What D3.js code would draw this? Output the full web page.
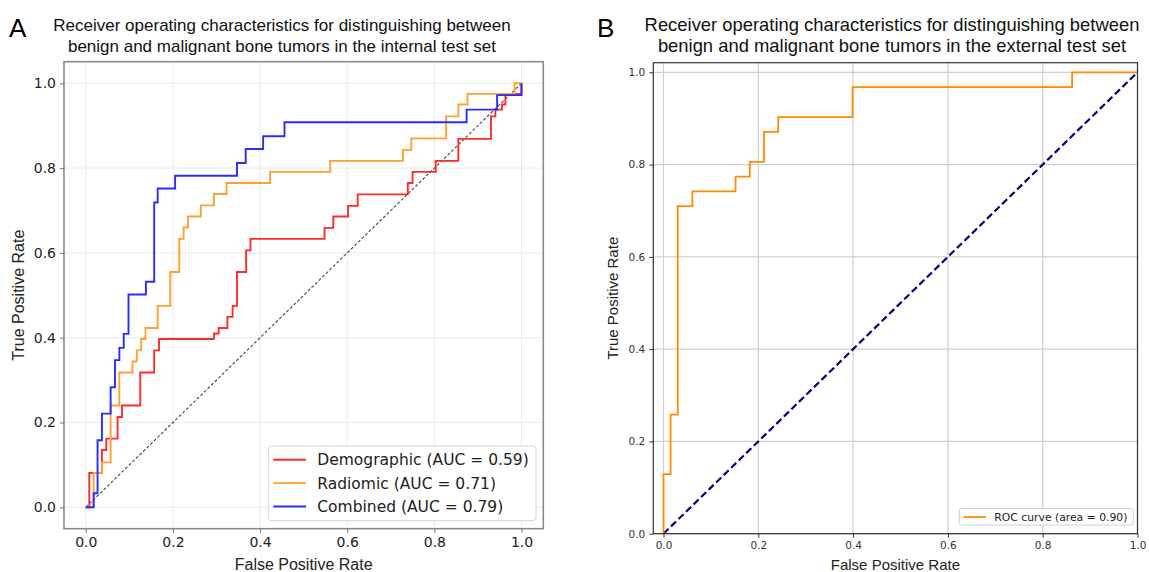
<!DOCTYPE html>
<html>
<head>
<meta charset="utf-8">
<script src="https://cdn.jsdelivr.net/npm/d3@7"></script>
<style>
  body { margin: 0; background: #fff; }
  svg { display: block; }
</style>
</head>
<body>
<script>
// ---- data ----
var tickValues = [0, 0.2, 0.4, 0.6, 0.8, 1.0];

// panel A, internal test set - (fpr, tpr) at the top of each vertical step
var demoFpr = [0, 0.008, 0.037, 0.047, 0.073, 0.083, 0.125, 0.157, 0.168, 0.294, 0.305, 0.325, 0.337, 0.347, 0.368, 0.378, 0.548, 0.568, 0.602, 0.624, 0.739, 0.750, 0.803, 0.855, 0.930, 0.940, 0.955, 0.963, 1.0];
var demoTpr = [0, 0.081, 0.135, 0.162, 0.213, 0.240, 0.318, 0.370, 0.397, 0.410, 0.423, 0.449, 0.475, 0.555, 0.606, 0.633, 0.659, 0.686, 0.711, 0.738, 0.765, 0.791, 0.817, 0.869, 0.922, 0.938, 0.950, 0.975, 1.0];

var radFpr = [0, 0.018, 0.037, 0.057, 0.077, 0.107, 0.117, 0.127, 0.137, 0.165, 0.194, 0.2145, 0.2245, 0.2345, 0.264, 0.294, 0.323, 0.423, 0.561, 0.728, 0.747, 0.827, 0.855, 0.876, 0.984, 1.0];
var radTpr = [0, 0.081, 0.106, 0.240, 0.318, 0.344, 0.370, 0.397, 0.423, 0.475, 0.555, 0.633, 0.660, 0.686, 0.712, 0.739, 0.765, 0.791, 0.817, 0.843, 0.870, 0.922, 0.950, 0.975, 1.0, 1.0];

var combFpr = [0, 0.018, 0.027, 0.037, 0.057, 0.067, 0.077, 0.087, 0.098, 0.138, 0.157, 0.165, 0.205, 0.347, 0.367, 0.407, 0.456, 0.874, 0.944, 1.0];
var combTpr = [0, 0.033, 0.158, 0.221, 0.283, 0.347, 0.376, 0.409, 0.502, 0.532, 0.719, 0.752, 0.782, 0.812, 0.845, 0.875, 0.908, 0.938, 0.972, 1.0];

var seriesNamesA = ["Demographic (AUC = 0.59)", "Radiomic (AUC = 0.71)", "Combined (AUC = 0.79)"];
var seriesColorsA = ["#ff2b2b", "#ffa032", "#2b2bff"];

// panel B, external test set
var extFpr = [0, 0, 0.015, 0.030, 0.061, 0.152, 0.182, 0.212, 0.242, 0.399, 0.862, 1.0];
var extTpr = [0, 0.129, 0.258, 0.710, 0.742, 0.774, 0.806, 0.871, 0.903, 0.968, 1.0, 1.0];
var extName = "ROC curve (area = 0.90)";

var titleLines = {
  A: ["Receiver operating characteristics for distinguishing between", "benign and malignant bone tumors in the internal test set"],
  B: ["Receiver operating characteristics for distinguishing between", "benign and malignant bone tumors in the external test set"]
};

var W = 1149, H = 572;
var svg = d3.select("body").append("svg")
            .attr("width", W)
            .attr("height", H);

var fmt = d3.format(".1f");
function pts(xs, ys) { return xs.map(function (x, i) { return [x, ys[i]]; }); }

// ================= panel A =================
var xA = d3.scaleLinear().domain([0, 1]).range([85.8, 521.5]);
var yA = d3.scaleLinear().domain([0, 1]).range([507.3, 83.3]);
var boxA = { x0: 64, x1: 543.3, y0: 61.7, y1: 528.7 };

var gA = svg.append("g");

// grid
gA.append("g")
  .selectAll("line").data(tickValues).enter().append("line")
  .attr("x1", function (d) { return xA(d); }).attr("x2", function (d) { return xA(d); })
  .attr("y1", boxA.y0).attr("y2", boxA.y1)
  .style("stroke", "#ebebeb").style("stroke-width", 1);
gA.append("g")
  .selectAll("line").data(tickValues).enter().append("line")
  .attr("y1", function (d) { return yA(d); }).attr("y2", function (d) { return yA(d); })
  .attr("x1", boxA.x0).attr("x2", boxA.x1)
  .style("stroke", "#ebebeb").style("stroke-width", 1);

// diagonal chance line
gA.append("line")
  .attr("x1", xA(0)).attr("y1", yA(0))
  .attr("x2", xA(1)).attr("y2", yA(1))
  .style("stroke", "#444").style("stroke-width", 1.1)
  .style("stroke-dasharray", "3,2");

// step after: go right at the old tpr, then up to the new one
var lineA = d3.line()
  .curve(d3.curveStepAfter)
  .x(function (d) { return xA(d[0]); })
  .y(function (d) { return yA(d[1]); });

var seriesA = [pts(demoFpr, demoTpr), pts(radFpr, radTpr), pts(combFpr, combTpr)];
gA.selectAll("path.roc").data(seriesA).enter().append("path")
  .attr("class", "roc")
  .attr("d", lineA)
  .style("fill", "none")
  .style("stroke", function (d, i) { return seriesColorsA[i]; })
  .style("stroke-width", 1.9);

// frame
gA.append("rect")
  .attr("x", boxA.x0).attr("y", boxA.y0)
  .attr("width", boxA.x1 - boxA.x0).attr("height", boxA.y1 - boxA.y0)
  .style("fill", "none").style("stroke", "#8a8a8a").style("stroke-width", 1.6);

// axes
var axA_x = gA.append("g")
  .attr("transform", "translate(0," + boxA.y1 + ")")
  .call(d3.axisBottom(xA).tickValues(tickValues).tickFormat(fmt).tickSize(4).tickPadding(4));
var axA_y = gA.append("g")
  .attr("transform", "translate(" + boxA.x0 + ",0)")
  .call(d3.axisLeft(yA).tickValues(tickValues).tickFormat(fmt).tickSize(4).tickPadding(4));
[axA_x, axA_y].forEach(function (ax) {
  ax.select(".domain").remove();
  ax.selectAll("line").style("stroke", "#777");
  ax.selectAll("text").style("font-family", "DejaVu Sans").style("font-size", "14px").style("fill", "#222");
});

// legend
var legA = gA.append("g");
legA.append("rect")
  .attr("x", 268.3).attr("y", 446)
  .attr("width", 536 - 268.3).attr("height", 520.7 - 446)
  .attr("rx", 3)
  .style("fill", "#fff").style("fill-opacity", 0.85)
  .style("stroke", "#d4d4d4").style("stroke-width", 1);
seriesNamesA.forEach(function (name, i) {
  var cy = 459.7 + i * 23.4;
  legA.append("line")
    .attr("x1", 273.3).attr("x2", 306)
    .attr("y1", cy).attr("y2", cy)
    .style("stroke", seriesColorsA[i]).style("stroke-width", 1.9);
  legA.append("text")
    .attr("x", 317.3).attr("y", cy + 5.6)
    .style("font-family", "DejaVu Sans").style("font-size", "15.5px").style("fill", "#222")
    .text(name);
});

// labels
gA.append("text")
  .attr("x", (boxA.x0 + boxA.x1) / 2).attr("y", 569.5)
  .attr("text-anchor", "middle")
  .style("font-family", "Liberation Sans").style("font-size", "16px").style("fill", "#222")
  .text("False Positive Rate");
gA.append("text")
  .attr("transform", "translate(24," + (boxA.y0 + boxA.y1) / 2 + ") rotate(-90)")
  .attr("text-anchor", "middle")
  .style("font-family", "Liberation Sans").style("font-size", "16px").style("fill", "#222")
  .text("True Positive Rate");

gA.append("text")
  .attr("x", 9).attr("y", 37)
  .style("font-family", "Liberation Sans").style("font-size", "26px").style("fill", "#000")
  .text("A");
titleLines.A.forEach(function (t, i) {
  gA.append("text")
    .attr("x", 282).attr("y", 31 + i * 21)
    .attr("text-anchor", "middle")
    .style("font-family", "Liberation Sans").style("font-size", "17px").style("fill", "#111")
    .text(t);
});

// ================= panel B =================
var xB = d3.scaleLinear().domain([0, 1]).range([663.5, 1137.5]);
var yB = d3.scaleLinear().domain([0, 1]).range([533.7, 72.3]);
var boxB = { x0: 653.3, x1: 1137.5, y0: 62.7, y1: 533.7 };

var gB = svg.append("g");

gB.append("g")
  .selectAll("line").data(tickValues).enter().append("line")
  .attr("x1", function (d) { return xB(d); }).attr("x2", function (d) { return xB(d); })
  .attr("y1", boxB.y0).attr("y2", boxB.y1)
  .style("stroke", "#cfcfcf").style("stroke-width", 1.2);
gB.append("g")
  .selectAll("line").data(tickValues).enter().append("line")
  .attr("y1", function (d) { return yB(d); }).attr("y2", function (d) { return yB(d); })
  .attr("x1", boxB.x0).attr("x2", boxB.x1)
  .style("stroke", "#cfcfcf").style("stroke-width", 1.2);

gB.append("line")
  .attr("x1", xB(0)).attr("y1", yB(0))
  .attr("x2", xB(1)).attr("y2", yB(1))
  .style("stroke", "#000080").style("stroke-width", 2.2)
  .style("stroke-dasharray", "7,3.5");

var lineB = d3.line()
  .curve(d3.curveStepAfter)
  .x(function (d) { return xB(d[0]); })
  .y(function (d) { return yB(d[1]); });
gB.append("path")
  .datum(pts(extFpr, extTpr))
  .attr("d", lineB)
  .style("fill", "none").style("stroke", "#ff8c00").style("stroke-width", 1.8);

gB.append("rect")
  .attr("x", boxB.x0).attr("y", boxB.y0)
  .attr("width", boxB.x1 - boxB.x0).attr("height", boxB.y1 - boxB.y0)
  .style("fill", "none").style("stroke", "#333").style("stroke-width", 1.2);

var axB_x = gB.append("g")
  .attr("transform", "translate(0," + boxB.y1 + ")")
  .call(d3.axisBottom(xB).tickValues(tickValues).tickFormat(fmt).tickSize(4).tickPadding(4));
var axB_y = gB.append("g")
  .attr("transform", "translate(" + boxB.x0 + ",0)")
  .call(d3.axisLeft(yB).tickValues(tickValues).tickFormat(fmt).tickSize(4).tickPadding(4));
[axB_x, axB_y].forEach(function (ax) {
  ax.select(".domain").remove();
  ax.selectAll("line").style("stroke", "#333");
  ax.selectAll("text").style("font-family", "DejaVu Sans").style("font-size", "10.5px").style("fill", "#333");
});

var legB = gB.append("g");
legB.append("rect")
  .attr("x", 959.3).attr("y", 508.5)
  .attr("width", 1133.3 - 959.3).attr("height", 525 - 508.5)
  .attr("rx", 2)
  .style("fill", "#fff").style("fill-opacity", 0.85)
  .style("stroke", "#d0d0d0").style("stroke-width", 1);
legB.append("line")
  .attr("x1", 963.5).attr("x2", 986).attr("y1", 517).attr("y2", 517)
  .style("stroke", "#ff8c00").style("stroke-width", 1.8);
legB.append("text")
  .attr("x", 994.3).attr("y", 520.8)
  .style("font-family", "DejaVu Sans").style("font-size", "10.8px").style("fill", "#222")
  .text(extName);

gB.append("text")
  .attr("x", (boxB.x0 + boxB.x1) / 2).attr("y", 569.5)
  .attr("text-anchor", "middle")
  .style("font-family", "Liberation Sans").style("font-size", "15px").style("fill", "#222")
  .text("False Positive Rate");
gB.append("text")
  .attr("transform", "translate(618," + (boxB.y0 + boxB.y1) / 2 + ") rotate(-90)")
  .attr("text-anchor", "middle")
  .style("font-family", "Liberation Sans").style("font-size", "15px").style("fill", "#222")
  .text("True Positive Rate");

gB.append("text")
  .attr("x", 597).attr("y", 37)
  .style("font-family", "Liberation Sans").style("font-size", "26px").style("fill", "#000")
  .text("B");
titleLines.B.forEach(function (t, i) {
  gB.append("text")
    .attr("x", 892).attr("y", 31 + i * 21)
    .attr("text-anchor", "middle")
    .style("font-family", "Liberation Sans").style("font-size", "18.4px").style("fill", "#111")
    .text(t);
});
</script>
</body>
</html>
